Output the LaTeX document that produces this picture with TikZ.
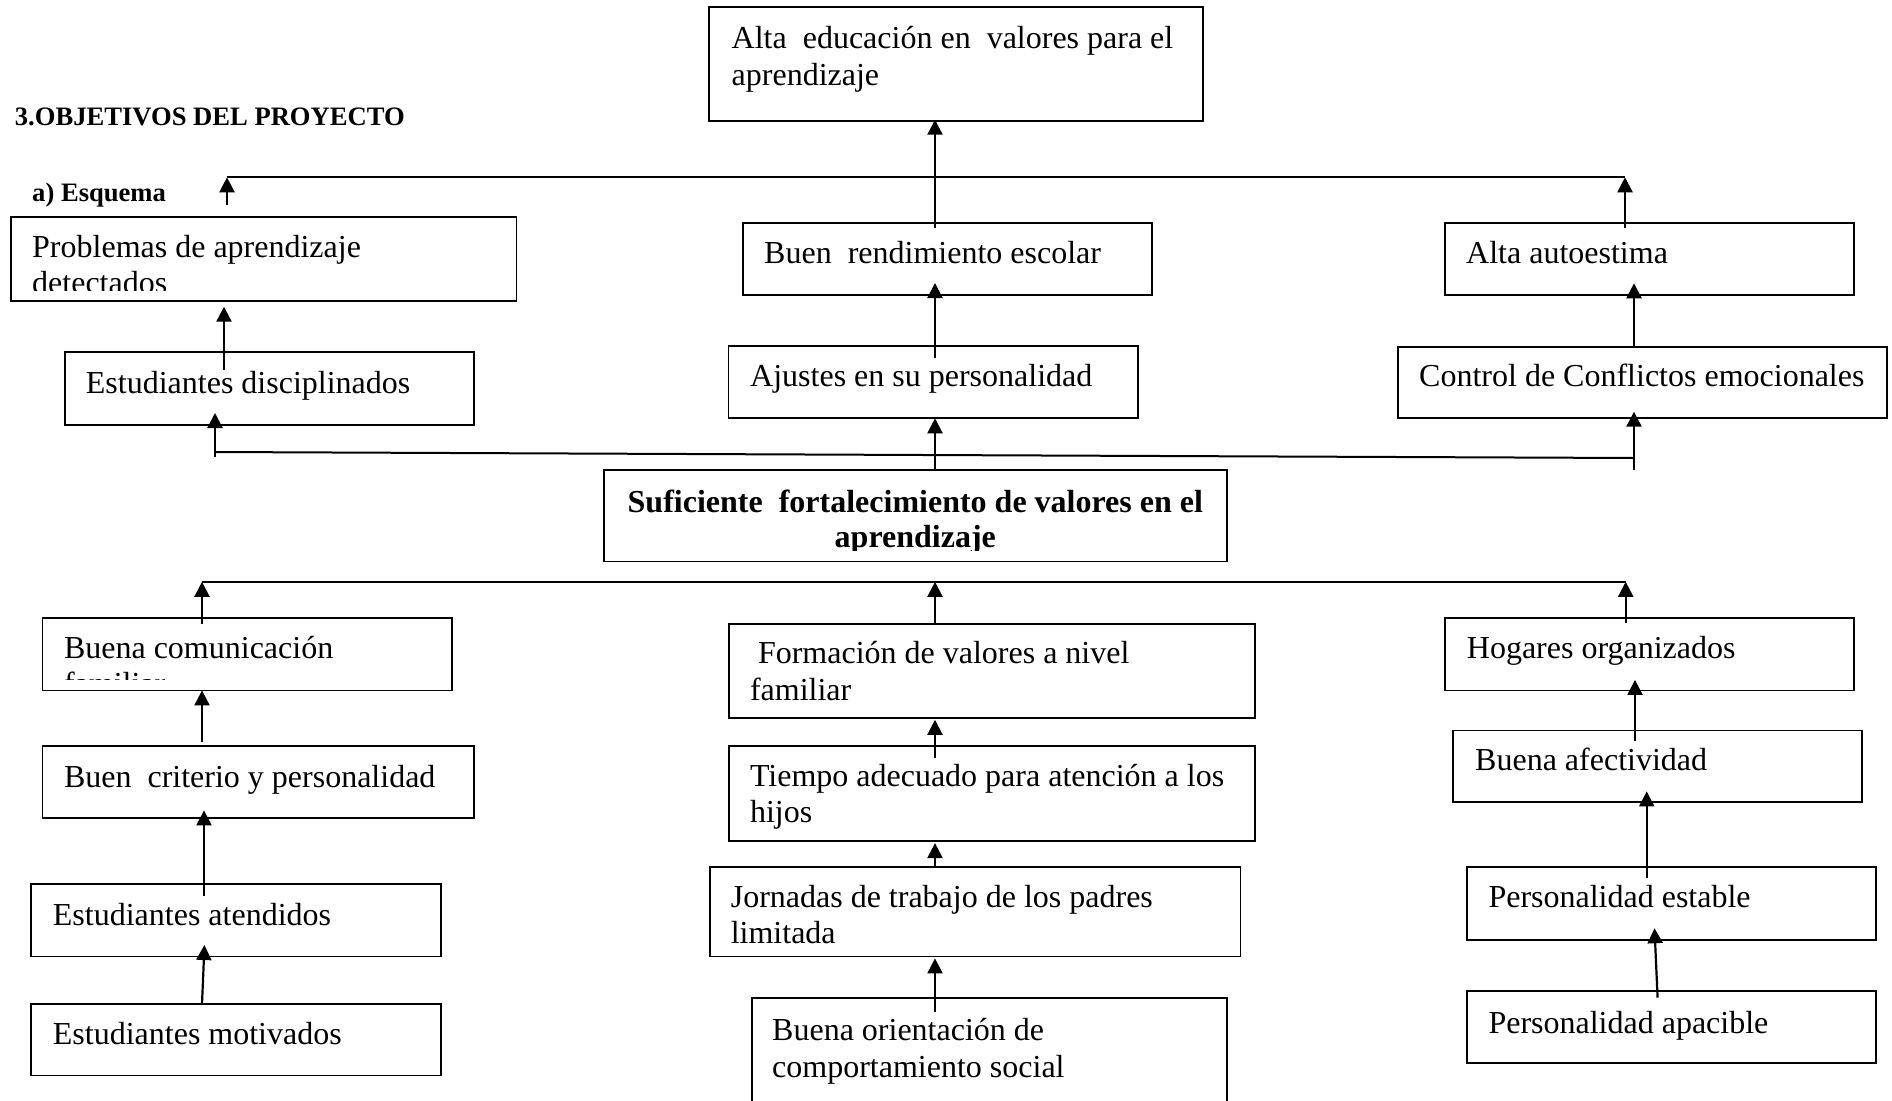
\documentclass[tikz,border=0pt]{standalone}
\usepackage{fontspec}
\setmainfont{Liberation Serif}
\usetikzlibrary{arrows.meta,fit}
\begin{document}
\begin{tikzpicture}[x=1pt,y=-1pt,
  box/.style={draw=black,line width=1.8pt,inner sep=0pt,outer sep=0pt},
  txt/.style={inner sep=0pt,anchor=base west,font=\fontsize{32}{36}\selectfont},
  btxt/.style={inner sep=0pt,anchor=base,font=\fontsize{32}{36}\selectfont\bfseries},
  hd/.style={inner sep=0pt,anchor=base west,font=\fontsize{26.6}{30}\selectfont\bfseries},
  ln/.style={line width=2pt},
  arr/.style={line width=2.2pt,-{Triangle[length=15pt,width=15pt]}}]
\useasboundingbox (0,0) rectangle (1892,1100);
\fill[white] (0,0) rectangle (1892,1100);
\clip (0,0) rectangle (1892,1100);

% headings
\node[hd] (title) at (14.7,125) {3.OBJETIVOS DEL PROYECTO};
\node[hd] (esq) at (32,201) {a) Esquema};

% ---------- boxes ----------
\node[box,fit={(709.3,7.3) (1203,120.7)}] (alta) {};
\node[box,fit={(11.2,217.3) (516.5,300.7)}] (prob) {};
\node[box,fit={(64.7,352.3) (474,425)}] (disc) {};
\node[box,fit={(743,222.7) (1152,295)}] (rend) {};
\node[box,fit={(728.5,346) (1138,418.3)}] (ajus) {};
\node[box,fit={(1445,222.7) (1854,295)}] (auto) {};
\node[box,fit={(1398,346.7) (1887,418.3)}] (ctrl) {};
\node[box,fit={(603.6,470.3) (1227,561.5)}] (suf) {};
\node[box,fit={(42.4,617.6) (451.8,690.4)}] (com) {};
\node[box,fit={(42.4,746) (474,818)}] (crit) {};
\node[box,fit={(31.25,884) (441,956.4)}] (aten) {};
\node[box,fit={(31.25,1004) (441,1075.5)}] (moti) {};
\node[box,fit={(728.7,624) (1255,717.8)}] (form) {};
\node[box,fit={(728.7,746) (1255,841.1)}] (tiem) {};
\node[box,fit={(709.6,867.2) (1240.4,956.4)}] (jorn) {};
\node[box,fit={(751.7,997.7) (1227,1115)}] (orie) {};
\node[box,fit={(1445,617.6) (1854,690.4)}] (hoga) {};
\node[box,fit={(1452.7,730.4) (1862.3,802)}] (afec) {};
\node[box,fit={(1466.7,867.2) (1876,939.6)}] (esta) {};
\node[box,fit={(1466.7,991.3) (1876,1062.9)}] (apac) {};

% ---------- texts ----------
\node[txt] (tAlta1) at (731.5,48.3) {Alta\ \ educación en\ \ valores para el};
\node[txt] (tAlta2) at (731.5,85) {aprendizaje};
\node[txt] (tProb1) at (32,257) {Problemas de aprendizaje};
\begin{scope}
  \clip (11.2,217.3) rectangle (516.5,290);
  \node[txt] (tProb2) at (32,293) {detectados};
\end{scope}
\node[txt] (tDisc) at (85.7,393) {Estudiantes disciplinados};
\node[txt] (tRend) at (764,263) {Buen\ \ rendimiento escolar};
\node[txt] (tAjus) at (750,386.7) {Ajustes en su personalidad};
\node[txt] (tAuto) at (1466,263) {Alta autoestima};
\node[txt] (tCtrl) at (1419,386.7) {Control de Conflictos emocionales};
\node[btxt] (tSuf1) at (915.3,512) {Suficiente\ \ fortalecimiento de valores en el};
\begin{scope}
  \clip (603.6,470.3) rectangle (1227,550);
  \node[btxt] (tSuf2) at (915.3,547) {aprendizaje};
\end{scope}
\node[txt] (tCom1) at (63.8,658) {Buena comunicación};
\begin{scope}
  \clip (42.4,617.6) rectangle (451.8,679);
  \node[txt] (tCom2) at (63.8,694) {familiar};
\end{scope}
\node[txt] (tCrit) at (63.8,787.2) {Buen\ \ criterio y personalidad};
\node[txt] (tAten) at (52.7,925.3) {Estudiantes atendidos};
\node[txt] (tMoti) at (52.7,1044) {Estudiantes motivados};
\node[txt] (tForm1) at (749.8,663) {\ Formación de valores a nivel};
\node[txt] (tForm2) at (749.8,700) {familiar};
\node[txt] (tTiem1) at (749.8,786) {Tiempo adecuado para atención a los};
\node[txt] (tTiem2) at (749.8,822.2) {hijos};
\node[txt] (tJorn1) at (730.6,907.2) {Jornadas de trabajo de los padres};
\node[txt] (tJorn2) at (730.6,943) {limitada};
\node[txt] (tOrie1) at (772,1040) {Buena orientación de};
\node[txt] (tOrie2) at (772,1077) {comportamiento social};
\node[txt] (tHoga) at (1466.7,658) {Hogares organizados};
\node[txt] (tAfec) at (1475,770.4) {Buena afectividad};
\node[txt] (tEsta) at (1488.3,907.2) {Personalidad estable};
\node[txt] (tApac) at (1488.3,1033.4) {Personalidad apacible};

% ---------- column coordinates ----------
\coordinate (xC) at (935,0);
\coordinate (xP) at (224,0);
\coordinate (xR2) at (1634,0);
\coordinate (xL3) at (202,0);
\coordinate (xL4) at (204,0);
\coordinate (xR4) at (1635,0);
\coordinate (xR5) at (1646.7,0);
\coordinate (xR6a) at (1657.3,0);
\coordinate (xR6b) at (1655,0);

% ---------- upper connectors ----------
\coordinate (t1) at (227,177.3);
\coordinate (t2) at (1625,177.3);
\coordinate (tfoot) at (227,205);
\draw[arr] (tfoot) -- (t1);
\draw[ln] (t1) -- (t2);
\draw[arr,shorten <=-5pt] (auto.north -| t2) -- (t2);
\draw[arr,shorten <=-5pt,shorten >=-1pt] (rend.north -| xC) -- (alta.south -| xC);
\draw[arr,shorten <=-12pt,shorten >=-12pt] (ajus.north -| xC) -- (rend.south -| xC);
\draw[arr,shorten <=-17.7pt,shorten >=6pt] (disc.north -| xP) -- (prob.south -| xP);
\draw[arr,shorten >=-11.7pt] (ctrl.north -| xR2) -- (auto.south -| xR2);

\coordinate (m1) at (215,452);
\coordinate (m2) at (1634,458);
\draw[ln] (m1) -- (m2);
\draw[arr,shorten <=-5pt,shorten >=-12pt] (m1) -- (disc.south -| m1);
\draw[arr] (suf.north -| xC) -- (ajus.south -| xC);
\draw[arr,shorten <=-12pt,shorten >=-6.6pt] (m2) -- (ctrl.south -| m2);

% ---------- lower connectors ----------
\coordinate (b1) at (202,581.8);
\coordinate (b2) at (1625.7,581.8);
\draw[ln] (b1) -- (b2);
\draw[arr,shorten <=-6.4pt] (com.north -| b1) -- (b1);
\draw[arr] (form.north -| xC) -- (xC |- b1);
\draw[arr,shorten <=-5.4pt] (hoga.north -| b2) -- (b2);

\draw[arr,shorten <=3.8pt] (crit.north -| xL3) -- (com.south -| xL3);
\draw[arr,shorten <=-11.8pt,shorten >=-7.6pt] (aten.north -| xL4) -- (crit.south -| xL4);
\draw[arr,shorten >=-11.4pt] (moti.north -| xL3) -- (aten.south -| xL4);

\draw[arr,shorten <=-11.8pt,shorten >=2pt] (tiem.north -| xC) -- (form.south -| xC);
\draw[arr,shorten >=2pt] (jorn.north -| xC) -- (tiem.south -| xC);
\draw[arr,shorten <=-14.7pt,shorten >=2pt] (orie.north -| xC) -- (jorn.south -| xC);

\draw[arr,shorten <=-10.6pt,shorten >=-10.5pt] (afec.north -| xR4) -- (hoga.south -| xR4);
\draw[arr,shorten <=-10.5pt,shorten >=-10.6pt] (esta.north -| xR5) -- (afec.south -| xR5);
\draw[arr,shorten <=-6.4pt,shorten >=-11.4pt] (apac.north -| xR6a) -- (esta.south -| xR6b);
\end{tikzpicture}
\end{document}
